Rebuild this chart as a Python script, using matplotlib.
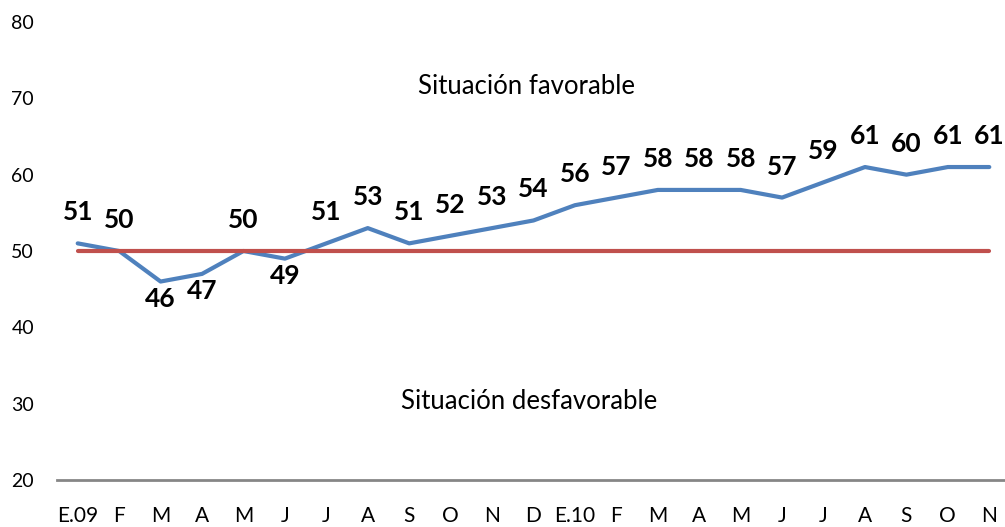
import numpy as np
import matplotlib
matplotlib.use("Agg")
import matplotlib.pyplot as plt

plt.rcParams['font.family'] = ['Lato', 'DejaVu Sans']

# Data
months = ["E.09", "F", "M", "A", "M", "J", "J", "A", "S", "O", "N", "D",
          "E.10", "F", "M", "A", "M", "J", "J", "A", "S", "O", "N"]
index_values = [51, 50, 46, 47, 50, 49, 51, 53, 51, 52, 53, 54,
                56, 57, 58, 58, 58, 57, 59, 61, 60, 61, 61]
threshold = 50
below_labels = [2, 3, 5]   # labels drawn under the point

x = np.arange(len(months))

fig = plt.figure(figsize=(10.05, 5.27), dpi=100)
ax = fig.add_axes([57 / 1005, 47 / 527, 953 / 1005, 458 / 527])

ax.plot(x, index_values, color='#4F81BD', linewidth=3, solid_capstyle='round', zorder=3)
ax.plot(x, [threshold] * len(x), color='#C0504D', linewidth=3, solid_capstyle='round', zorder=4)

# Data labels
for i, v in enumerate(index_values):
    dy = -17 if i in below_labels else 31
    ax.annotate(str(v), (x[i], v), xytext=(0, dy), textcoords='offset pixels',
                ha='center', va='center', fontsize=19, fontweight='bold', color='black')

ax.text(10.83, 71.5, "Situación favorable", ha='center', va='center', fontsize=18.5)
ax.text(10.9, 30.3, "Situación desfavorable", ha='center', va='center', fontsize=18.5)

ax.set_ylim(20, 80)
ax.set_xlim(-0.5, 22.5)
ax.set_yticks(range(20, 81, 10))
ax.set_xticks(x)
ax.set_xticklabels(months)

for side in ['top', 'right', 'left']:
    ax.spines[side].set_visible(False)
ax.spines['bottom'].set_color('#868686')
ax.spines['bottom'].set_linewidth(2)

ax.tick_params(axis='y', length=0, pad=16.5, labelsize=14)
ax.tick_params(axis='x', length=0, pad=19, labelsize=15)

fig.savefig("out.png", dpi=100)
